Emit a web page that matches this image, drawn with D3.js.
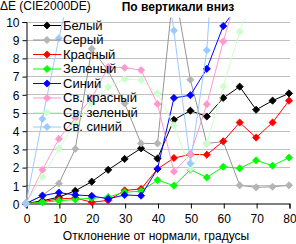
<!DOCTYPE html>
<html>
<head>
<meta charset="utf-8">
<script src="https://cdn.jsdelivr.net/npm/d3@7"></script>
<style>
  body { margin: 0; background: #fff; }
  svg text { font-family: "Liberation Sans", Arial, sans-serif; font-size: 12px; fill: #000; }
  .legend text { font-size: 13px; }
</style>
</head>
<body>
<div id="chart"></div>
<script>
// angles, degrees
const angles = [0, 5, 10, 15, 20, 25, 30, 35, 40, 45, 50, 55, 60, 65, 70, 75, 80];

// dE values per colour (values above 10 run off the top of the plot)
const white      = [0, 0.15, 0.35, 0.7, 1.2, 1.85, 2.45, 3.03, 2.47, 4.6, 5.1, 4.78, 5.8, 6.42, 5.15, 5.65, 6.05];
const grey       = [0, 0.45, 1.1, 3.0, 8.5, 7.3, 5.5, 3.3, 3.3, 12, 6.8, 3.3, 3.4, 1.0, 0.89, 0.92, 1.0];
const red        = [0, 0.1, 0.25, 0.3, 0.07, 0.17, 0.72, 0.8, 1.9, 2.5, 2.7, 2.68, 3.42, 4.45, 3.62, 4.45, 5.65];
const green      = [0, 0.07, 0.15, 0.22, 0.3, 0.35, 0.62, 0.68, 1.29, 0.98, 1.86, 1.43, 2.02, 1.93, 2.37, 2.08, 2.52];
const blue       = [0, 0.43, 0.6, 0.47, 0.42, 0.25, 0.47, 0.43, 1.9, 5.8, 5.95, 7.4, 9.75, 11, 12, 13, 14];
const lightRed   = [0, 1.85, 3.55, 4.7, 5.8, 7.5, 7.46, 7.33, 5.47, 1.75, 2.7, 5.45, 8.9, 12, 13, 14, 15];
const lightGreen = [0, 1.47, 3.03, 4.4, 5.5, 6.4, 6.84, 6.78, 6.05, 4.3, 1.9, 3.3, 6.42, 9.44, 12, 13, 14];
const lightBlue  = [0, 4.65, 9.08, 13, 14, 15, 15, 15, 15, 9.5, 2.2, 8.42, 22, 22, 22, 22, 22];

const seriesNames = ["Белый", "Серый", "Красный", "Зеленый", "Синий", "Св. красный", "Св. зеленый", "Св. синий"];
const seriesValues = [white, grey, red, green, blue, lightRed, lightGreen, lightBlue];
const lineColors   = ["#000000", "#969696", "#ff0000", "#00ff00", "#0000ff", "#ff99cc", "#ccffcc", "#99ccff"];
const markColors   = ["#000000", "#b4b4b4", "#ff0000", "#00ff00", "#0000ff", "#ff99cc", "#ccffcc", "#99ccff"];

const xTicks = [0, 10, 20, 30, 40, 50, 60, 70, 80];
const yTicks = [0, 1, 2, 3, 4, 5, 6, 7, 8, 9, 10];

const width = 296, height = 244;
const plot = {left: 26, right: 289, top: 21.5, bottom: 203.5};

const svg = d3.select("#chart").append("svg")
    .attr("width", width)
    .attr("height", height);

const x = d3.scaleLinear().domain([0, 80]).range([plot.left, plot.right]);
const y = d3.scaleLinear().domain([0, 10]).range([plot.bottom, plot.top]);

// gridlines
svg.append("g")
    .selectAll("line")
    .data(yTicks.filter(d => d > 0))
    .enter().append("line")
    .attr("x1", plot.left).attr("x2", plot.right + 1)
    .attr("y1", d => Math.round(y(d)) + 0.5)
    .attr("y2", d => Math.round(y(d)) + 0.5)
    .attr("stroke", "#c0c0c0")
    .attr("stroke-width", 1);

// axes
const yAxis = svg.append("g")
    .attr("transform", `translate(${plot.left + 0.5},0.5)`)
    .call(d3.axisLeft(y).tickValues(yTicks).tickSize(4).tickPadding(3).tickFormat(d3.format("d")));
const xAxis = svg.append("g")
    .attr("transform", `translate(0.5,${plot.bottom})`)
    .call(d3.axisBottom(x).tickValues(xTicks).tickSize(5).tickPadding(6).tickFormat(d3.format("d")));
[xAxis, yAxis].forEach(a => {
    a.select(".domain").attr("stroke", "#000");
    a.selectAll(".tick line").attr("stroke", "#000");
    a.selectAll("text").attr("font-family", null).attr("font-size", null).attr("fill", "#000");
});
yAxis.selectAll(".tick text").attr("dy", "0.36em");

// clip at the top of the plot
svg.append("clipPath").attr("id", "clip")
    .append("rect").attr("x", 0).attr("y", 17.5).attr("width", width).attr("height", height);

const line = d3.line()
    .x((d, i) => x(angles[i]))
    .y(d => y(d));

const diamond = "M0,-3.6L3.6,0L0,3.6L-3.6,0Z";

const lines = svg.append("g").attr("clip-path", "url(#clip)");
seriesValues.forEach((vals, k) => {
    const g = lines.append("g");
    g.append("path")
        .attr("d", line(vals))
        .attr("fill", "none")
        .attr("stroke", lineColors[k])
        .attr("stroke-width", 1);
    g.selectAll("path.mk")
        .data(vals.map((v, i) => [angles[i], v]).filter(d => d[1] <= 10))
        .enter().append("path")
        .attr("class", "mk")
        .attr("d", diamond)
        .attr("transform", d => `translate(${x(d[0])},${y(d[1])})`)
        .attr("fill", markColors[k])
        .attr("stroke", markColors[k])
        .attr("stroke-width", 0.8);
});

// legend
const legend = svg.append("g").attr("class", "legend").attr("transform", "translate(33,25)");
seriesNames.forEach((name, k) => {
    const row = legend.append("g").attr("transform", `translate(0,${k * 14.5})`);
    row.append("line").attr("x1", 0).attr("x2", 28).attr("y1", 0.5).attr("y2", 0.5)
        .attr("stroke", lineColors[k]);
    row.append("path").attr("d", diamond).attr("transform", "translate(14,0.5)")
        .attr("fill", markColors[k]).attr("stroke", markColors[k]).attr("stroke-width", 0.8);
    row.append("text").attr("x", 30).attr("y", 0).attr("dy", "0.36em").text(name);
});

// titles
svg.append("text").attr("x", 0).attr("y", 10).text("ΔE (CIE2000DE)");
svg.append("text").attr("x", 178).attr("y", 11).attr("text-anchor", "middle")
    .style("font-weight", "bold").text("По вертикали вниз");
svg.append("text").attr("x", 156).attr("y", 240).attr("text-anchor", "middle")
    .text("Отклонение от нормали, градусы");
</script>
</body>
</html>
